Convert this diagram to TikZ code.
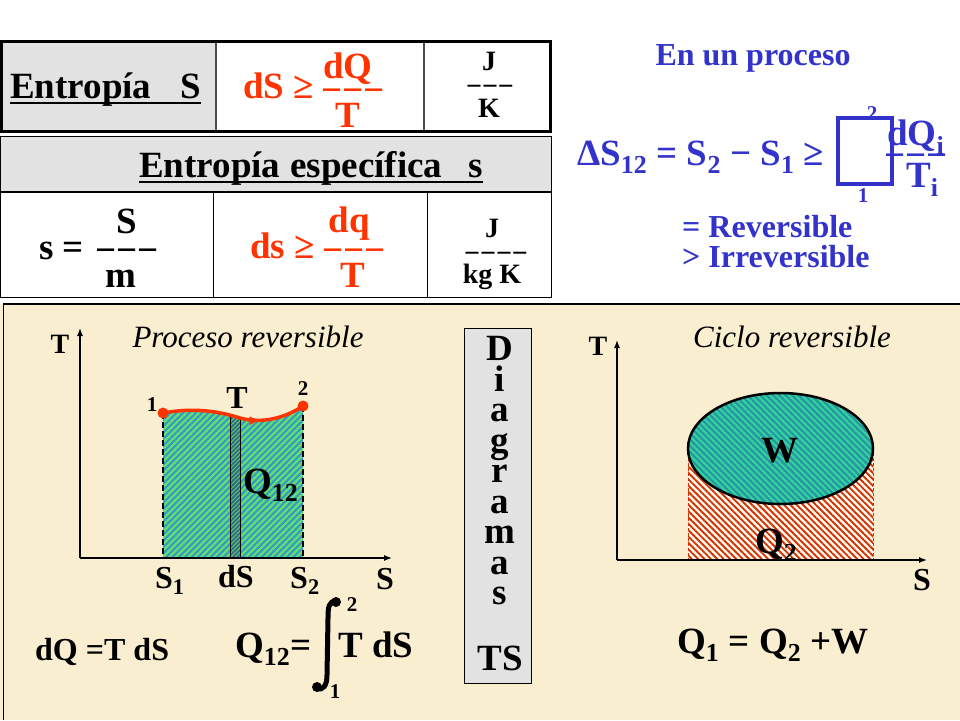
\documentclass[tikz,border=0pt]{standalone}
\usepackage{fontspec}
\setmainfont{Liberation Serif}
\usetikzlibrary{arrows.meta,patterns.meta,decorations.markings}
\definecolor{marble}{RGB}{226,226,226}
\definecolor{beige}{RGB}{250,238,208}
\definecolor{hotred}{RGB}{255,51,0}
\definecolor{ink}{RGB}{51,51,204}
\definecolor{skyfill}{RGB}{51,153,204}
\definecolor{leaf}{RGB}{102,224,102}
\definecolor{deepfill}{RGB}{40,110,130}
\definecolor{tealfill}{RGB}{40,150,165}
\definecolor{mint}{RGB}{51,214,153}
\definecolor{brick}{RGB}{210,51,0}
\newcommand\fsz[1]{\fontsize{#1}{#1}\selectfont}
\begin{document}
\begin{tikzpicture}[x=1pt,y=-1pt,
    lbl/.style={inner sep=0pt,font=\bfseries\fsz{37}},
    mid/.style={inner sep=0pt,font=\bfseries\fsz{32}},
    sm/.style={inner sep=0pt,font=\bfseries\fsz{28}},
    tiny/.style={inner sep=0pt,font=\bfseries\fsz{21}},
    ital/.style={inner sep=0pt,font=\itshape\fsz{31}},
    axis/.style={line width=1.3pt,-{Latex[length=8pt,width=6pt]}},
    dot/.style={circle,fill=hotred,inner sep=0pt,minimum size=11pt},
    skyhatch/.style={preaction={fill=skyfill},pattern={Lines[angle=45,distance=4.5pt,line width=2.2pt]},pattern color=leaf},
    striphatch/.style={preaction={fill=deepfill},pattern={Lines[angle=45,distance=3pt,line width=1pt]},pattern color=leaf!70!gray},
    tealhatch/.style={preaction={fill=tealfill},pattern={Lines[angle=-45,distance=4.5pt,line width=2pt]},pattern color=mint},
    redhatch/.style={preaction={fill=white!70!beige},pattern={Lines[angle=-45,distance=4.5pt,line width=1.9pt]},pattern color=brick}]
  \useasboundingbox (0,0) rectangle (960,720);
  \fill[white] (0,0) rectangle (960,304);
  \fill[beige] (0,304) rectangle (960,720);
  \draw[line width=1.5pt] (3.5,720) -- (3.5,304) -- (960,304);

  % table
  \fill[marble] (0,40) rectangle (216,132);
  \draw[line width=1.2pt,gray!60!black] (216,40) -- (216,132) (424,40) -- (424,132);
  \draw[line width=3pt] (1.5,41.5) rectangle (550.5,131);
  \filldraw[fill=marble,line width=1pt] (0.5,136) rectangle (551,191);
  \draw[line width=1pt] (0.5,192) rectangle (551,297) (213,192) -- (213,297) (427,192) -- (427,297);

  \node[lbl,anchor=base west] (ent) at (10,98) {Entropía\hspace{29pt}S};
  \draw[line width=2.5pt] ([yshift=-5pt]ent.base west) -- ([yshift=-5pt]ent.base east);
  \node[lbl,hotred,anchor=base west] (dsge) at (243,98) {dS ≥};
  \node[lbl,hotred,anchor=base] (dq) at (348,78) {dQ};
  \node[lbl,hotred,anchor=base] (barq) at (353,102) {−−−};
  \node[lbl,hotred,anchor=base] (tq) at (348,127) {T};
  \node[sm,anchor=base] (ja) at (489,70) {J};
  \node[sm,anchor=base] (bara) at (490,95) {−−−};
  \node[sm,anchor=base] (ka) at (489,117) {K};

  \node[lbl,anchor=base west] (spec) at (139,177) {Entropía\hspace{10pt}específica\hspace{26pt}s};
  \draw[line width=2.5pt] ([yshift=-5pt]spec.base west) -- ([yshift=-5pt]spec.base east);

  \node[lbl,anchor=base] (sbig) at (127,233) {S};
  \node[lbl,anchor=base west] (seq) at (39,259) {s =};
  \node[lbl,anchor=base west] (barm) at (95,262) {−−−};
  \node[lbl,anchor=base] (mass) at (121,287) {m};
  \node[lbl,hotred,anchor=base west] (dsle) at (250,258) {ds ≥};
  \node[lbl,hotred,anchor=base] (dqs) at (349,232) {dq};
  \node[lbl,hotred,anchor=base] (bars) at (354,262) {−−−};
  \node[lbl,hotred,anchor=base] (ts) at (353,287) {T};
  \node[sm,anchor=base] (jb) at (492,237) {J};
  \node[sm,anchor=base] (barb) at (496,262.5) {−−−−};
  \node[sm,anchor=base] (kgk) at (492,283) {kg K};

  % proceso
  \node[mid,ink] (proc) at (753,58) {En un proceso};
  \node[lbl,ink,anchor=base west] (dels) at (577,165) {ΔS\textsubscript{12} = S\textsubscript{2} − S\textsubscript{1} ≥};
  \draw[ink,line width=4pt] (838,118) rectangle (892,184);
  \node[tiny,ink] (up) at (872,114) {2};
  \node[tiny,ink] (lo) at (863,196) {1};
  \node[lbl,ink,anchor=base west] (dqi) at (887,145) {dQ\textsubscript{i}};
  \node[lbl,ink,anchor=base] (bari) at (916,167) {−−−};
  \node[lbl,ink,anchor=base west] (ti) at (906,187) {T\textsubscript{i}};
  \node[mid,ink,anchor=base west] (rev) at (682,237) {= Reversible};
  \node[mid,ink,anchor=base west] (irr) at (682,267) {> Irreversible};

  % proceso reversible
  \path[skyhatch] (163,558) -- (163,413) .. controls (190,408) and (215,410) .. (240,418) .. controls (262,424) and (285,418) .. (303,406) -- (303,558) -- cycle;
  \path[striphatch] (230,558) -- (230,415.5) -- (240,418) -- (240,558) -- cycle;
  \draw[line width=1pt] (230,558) -- (230,415.5) (240,558) -- (240,418);
  \draw[line width=1.2pt,dash pattern=on 6pt off 3pt] (163,413) -- (163,558) (303,406) -- (303,558);
  \draw[axis] (80,558) -- (80,328);
  \draw[axis] (80,558) -- (392,558);
  \node[dot] (p1) at (163,413) {};
  \node[dot] (p2) at (303,406) {};
  \draw[hotred,line width=3.5pt,postaction={decorate,decoration={markings,mark=at position 0.68 with {\arrow{Latex[length=10pt,width=9pt]}}}}]
    (p1.center) .. controls (190,408) and (215,410) .. (240,418) .. controls (262,424) and (285,418) .. (p2.center);
  \node[sm,anchor=base] (ta) at (60,353) {T};
  \node[ital,anchor=base] (capa) at (248,347) {Proceso reversible};
  \node[tiny] (n1) at (152,405) {1};
  \node[tiny] (n2) at (303,389) {2};
  \node[mid] (tt) at (237,398) {T};
  \node[lbl,anchor=base west] (q12) at (243,493) {Q\textsubscript{12}};
  \node[mid,anchor=base west] (s1) at (155,588) {S\textsubscript{1}};
  \node[mid,anchor=base west] (dsa) at (218,587) {dS};
  \node[mid,anchor=base west] (s2) at (290,588) {S\textsubscript{2}};
  \node[mid,anchor=base] (sa) at (385,589) {S};
  \node[mid,anchor=base west] (dqt) at (35,660) {dQ =T dS};
  \node[lbl,anchor=base west] (q12b) at (235,657) {Q\textsubscript{12}=};
  \draw[line width=5pt] (336,601) .. controls (329,601) and (328,607) .. (328,618) -- (327,675) .. controls (327,686) and (323,690) .. (317,689);
  \fill (336,602) circle (5) (317,687) circle (5);
  \node[lbl,anchor=base west] (tds) at (338,657) {T dS};
  \node[tiny] (i2) at (352,605) {2};
  \node[tiny] (i1) at (335,692) {1};

  % diagramas
  \filldraw[fill=marble,line width=1pt] (464,328) rectangle (531,683);
  \foreach \ch [count=\k] in {D,i,a,g,r,a,m,a,s}
    \node[lbl,anchor=base] (diag\k) at (500,330+\k*30.5) {\ch};
  \node[lbl,anchor=base] (tsd) at (500,670) {TS};

  % ciclo reversible
  \path[redhatch] (688,448) rectangle (873,560);
  \draw[brick,line width=1pt,dash pattern=on 3pt off 2pt] (688,448) -- (688,560) (873,448) -- (873,560);
  \path[tealhatch] (780.5,448.5) ellipse (92.5 and 55.5);
  \draw[line width=2.5pt] (780.5,448.5) ellipse (92.5 and 55.5);
  \draw[axis] (617,560) -- (617,340);
  \draw[axis] (617,560) -- (927,560);
  \node[sm,anchor=base] (tb) at (598,355) {T};
  \node[ital,anchor=base] (capb) at (792,347) {Ciclo reversible};
  \node[lbl,anchor=base] (w) at (780,462) {W};
  \node[lbl,anchor=base west] (q2) at (755,553) {Q\textsubscript{2}};
  \node[mid,anchor=base] (sb) at (922,590) {S};
  \node[lbl,anchor=base west] (bal) at (677,653) {Q\textsubscript{1} = Q\textsubscript{2} +W};
\end{tikzpicture}
\end{document}
